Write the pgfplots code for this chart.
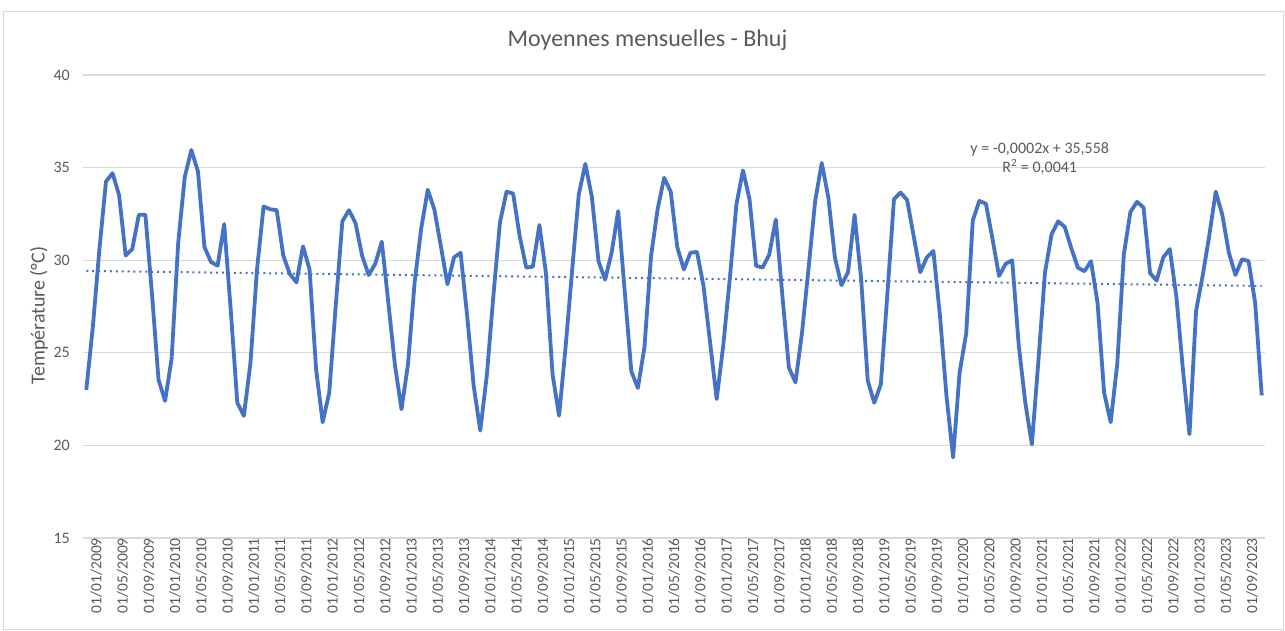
\documentclass[border=0pt]{standalone}
\usepackage{pgfplots}
\pgfplotsset{compat=1.18}
\usepackage{pgfplotstable}
\usepackage{fontspec}
\setmainfont{Carlito}
\definecolor{lineblue}{HTML}{4472C4}
\definecolor{txtgray}{HTML}{595959}
\definecolor{gridgray}{HTML}{D9D9D9}

\pgfplotstableread{
i T
0 23.0
1 26.4
2 30.6
3 34.25
4 34.7
5 33.5
6 30.25
7 30.6
8 32.45
9 32.45
10 28.2
11 23.55
12 22.4
13 24.7
14 30.95
15 34.5
16 35.95
17 34.8
18 30.7
19 29.9
20 29.7
21 31.95
22 27.3
23 22.3
24 21.6
25 24.45
26 29.5
27 32.9
28 32.75
29 32.7
30 30.25
31 29.25
32 28.8
33 30.75
34 29.5
35 24.1
36 21.25
37 22.85
38 27.6
39 32.1
40 32.7
41 32.0
42 30.25
43 29.2
44 29.8
45 31.0
46 27.7
47 24.35
48 21.95
49 24.4
50 28.8
51 31.7
52 33.8
53 32.75
54 30.75
55 28.7
56 30.15
57 30.4
58 27.0
59 23.2
60 20.8
61 23.8
62 28.1
63 32.05
64 33.7
65 33.6
66 31.3
67 29.6
68 29.65
69 31.9
70 29.3
71 23.85
72 21.6
73 25.35
74 29.5
75 33.55
76 35.2
77 33.4
78 29.95
79 28.95
80 30.4
81 32.65
82 28.3
83 24.0
84 23.1
85 25.3
86 30.2
87 32.75
88 34.45
89 33.7
90 30.7
91 29.5
92 30.4
93 30.45
94 28.6
95 25.55
96 22.5
97 25.4
98 29.0
99 33.0
100 34.85
101 33.3
102 29.7
103 29.6
104 30.3
105 32.2
106 28.1
107 24.2
108 23.4
109 26.1
110 29.6
111 33.2
112 35.25
113 33.4
114 30.15
115 28.65
116 29.35
117 32.45
118 29.0
119 23.5
120 22.3
121 23.3
122 28.2
123 33.3
124 33.65
125 33.25
126 31.3
127 29.35
128 30.15
129 30.5
130 27.0
131 22.65
132 19.35
133 23.95
134 26.05
135 32.15
136 33.2
137 33.05
138 31.15
139 29.15
140 29.8
141 30.0
142 25.4
143 22.3
144 20.05
145 24.6
146 29.35
147 31.4
148 32.1
149 31.8
150 30.65
151 29.6
152 29.4
153 29.95
154 27.7
155 22.85
156 21.25
157 24.4
158 30.3
159 32.6
160 33.15
161 32.85
162 29.3
163 28.9
164 30.15
165 30.6
166 28.05
167 24.1
168 20.6
169 27.25
170 29.15
171 31.3
172 33.7
173 32.45
174 30.4
175 29.2
176 30.05
177 29.95
178 27.7
179 22.7
}\datatable

\begin{document}
\begin{tikzpicture}
\path[use as bounding box] (-83pt,-93pt) rectangle (1202pt,538pt);
\draw[gridgray, line width=1pt] (-79pt,-92pt) rectangle (1200pt,526pt);
\begin{axis}[
  at={(0pt,0pt)}, anchor=south west,
  scale only axis,
  width=1182pt, height=463pt,
  xmin=-0.5, xmax=179.5,
  ymin=15, ymax=40,
  ytick={15,20,25,30,35,40},
  ymajorgrids=true,
  grid style={gridgray, line width=1.2pt},
  axis line style={draw=none},
  ytick style={draw=none},
  xtick={0,4,...,176},
  xticklabels={01/01/2009,01/05/2009,01/09/2009,01/01/2010,01/05/2010,01/09/2010,01/01/2011,01/05/2011,01/09/2011,01/01/2012,01/05/2012,01/09/2012,01/01/2013,01/05/2013,01/09/2013,01/01/2014,01/05/2014,01/09/2014,01/01/2015,01/05/2015,01/09/2015,01/01/2016,01/05/2016,01/09/2016,01/01/2017,01/05/2017,01/09/2017,01/01/2018,01/05/2018,01/09/2018,01/01/2019,01/05/2019,01/09/2019,01/01/2020,01/05/2020,01/09/2020,01/01/2021,01/05/2021,01/09/2021,01/01/2022,01/05/2022,01/09/2022,01/01/2023,01/05/2023,01/09/2023},
  xtick style={draw=none},
  extra x ticks={-0.5,3.5,7.5,11.5,15.5,19.5,23.5,27.5,31.5,35.5,39.5,43.5,47.5,51.5,55.5,59.5,63.5,67.5,71.5,75.5,79.5,83.5,87.5,91.5,95.5,99.5,103.5,107.5,111.5,115.5,119.5,123.5,127.5,131.5,135.5,139.5,143.5,147.5,151.5,155.5,159.5,163.5,167.5,171.5,175.5,179.5},
  extra x tick labels={},
  extra x tick style={tick style={draw=gridgray, line width=1.2pt}, major tick length=6pt, tick align=outside, xtick pos=bottom},
  tick pos=bottom,
  xticklabel style={rotate=90, anchor=east, inner sep=0pt, xshift=0pt, yshift=-10pt, font=\fontsize{15.5}{18}\selectfont, text=txtgray},
  yticklabel style={anchor=east, inner sep=0pt, xshift=-13pt, font=\fontsize{16}{19}\selectfont, text=txtgray},
  /pgf/number format/assume math mode=true,
  ylabel={Température (°C)},
  ylabel style={at={(axis description cs:0,0.48)}, anchor=south, inner sep=0pt, yshift=35pt, font=\fontsize{20}{24}\selectfont, text=txtgray},
  clip=false,
]
\addplot[lineblue, line width=3.8pt, line join=round, no marks] table[x=i, y=T] {\datatable};
\addplot[lineblue, line width=2pt, dash pattern=on 2pt off 3.9pt, no marks] coordinates {(0,29.42) (179,28.61)};
\node[align=center, text=txtgray, font=\fontsize{16}{19}\selectfont, inner sep=0pt] at (axis cs:145.2,35.5) {y = -0,0002x + 35,558\\R\textsuperscript{2} = 0,0041};
\end{axis}
\node[anchor=base, text=txtgray, font=\fontsize{24}{28}\selectfont, inner sep=0pt] at (564.5pt,491pt) {Moyennes mensuelles - Bhuj};
\end{tikzpicture}
\end{document}
